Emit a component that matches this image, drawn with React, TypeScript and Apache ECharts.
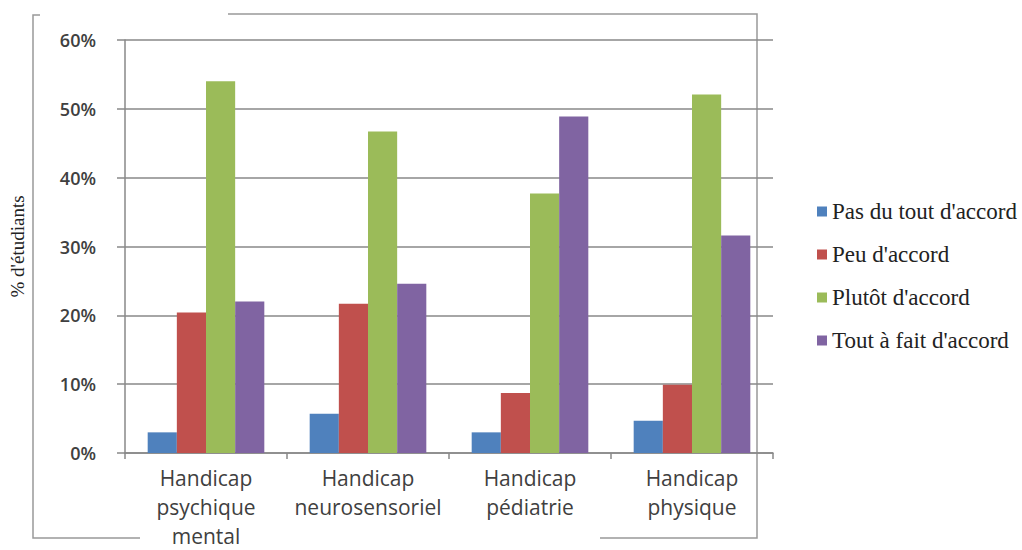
import React, { useEffect, useRef } from "react";
import * as echarts from "echarts";

const categories = [
  "Handicap\npsychique\nmental",
  "Handicap\nneurosensoriel",
  "Handicap\npédiatrie",
  "Handicap\nphysique",
];
const seriesNames = [
  "Pas du tout d'accord",
  "Peu d'accord",
  "Plutôt d'accord",
  "Tout à fait d'accord",
];
const pasDuTout = [3.0, 5.7, 3.0, 4.7];
const peu = [20.4, 21.7, 8.7, 9.9];
const plutot = [54.0, 46.7, 37.7, 52.1];
const toutAFait = [22.0, 24.6, 48.9, 31.6];
const colors = ["#4F81BD", "#C0504D", "#9BBB59", "#8064A2"];
const yTitle = "% d'étudiants";

export default function App() {
  const ref = useRef<HTMLDivElement>(null);
  useEffect(() => {
    if (!ref.current) return;
    document.body.style.margin = "0";
    document.body.style.overflow = "hidden";
    const chart = echarts.init(ref.current, null, { renderer: "svg" });
    const values = [pasDuTout, peu, plutot, toutAFait];
    chart.setOption({
      animation: false,
      backgroundColor: "#ffffff",
      color: colors,
      grid: { left: 120, width: 653, top: 40, height: 420, containLabel: false },
      legend: {
        orient: "vertical",
        left: 812,
        top: 195,
        itemWidth: 10,
        itemHeight: 10,
        itemGap: 20,
        icon: "rect",
        data: seriesNames,
        textStyle: { fontFamily: "Liberation Serif", fontSize: 23, color: "#222" },
      },
      xAxis: {
        type: "category",
        data: categories,
        axisLine: { show: true, lineStyle: { color: "#888", width: 1.5 } },
        axisTick: { show: true, length: 6, lineStyle: { color: "#888", width: 1.5 } },
        axisLabel: {
          color: "#404040",
          fontSize: 21,
          fontFamily: "Open Sans",
          lineHeight: 29,
          margin: 10,
          interval: 0,
        },
      },
      yAxis: {
        type: "value",
        min: 0,
        max: 60,
        interval: 10,
        name: yTitle,
        nameLocation: "middle",
        nameGap: 98,
        nameRotate: 90,
        nameTextStyle: { fontFamily: "Liberation Serif", fontSize: 19, color: "#222" },
        axisLine: { show: true, lineStyle: { color: "#888", width: 1.5 } },
        axisTick: { show: true, length: 8, lineStyle: { color: "#888", width: 1.5 } },
        axisLabel: {
          formatter: "{value}%",
          color: "#404040",
          fontSize: 18,
          fontWeight: 600,
          fontFamily: "Open Sans",
          margin: 29,
        },
        splitLine: { lineStyle: { color: "#888", width: 1.5 } },
      },
      series: seriesNames.map((name, i) => ({
        name,
        type: "bar",
        data: values[i],
        barGap: "0%",
        barCategoryGap: "28%",
        itemStyle: { color: colors[i] },
      })),
      graphic: [
        {
          type: "polyline",
          shape: { points: [[228, 14], [757, 14], [757, 538], [600, 538]] },
          style: { stroke: "#999", lineWidth: 1.5, fill: "none" },
          silent: true,
        },
        {
          type: "polyline",
          shape: { points: [[40, 15], [33, 15], [33, 538], [140, 538]] },
          style: { stroke: "#999", lineWidth: 1.5, fill: "none" },
          silent: true,
        },
      ],
    });
    return () => chart.dispose();
  }, []);
  return <div ref={ref} style={{ width: 1022, height: 550 }} />;
}
